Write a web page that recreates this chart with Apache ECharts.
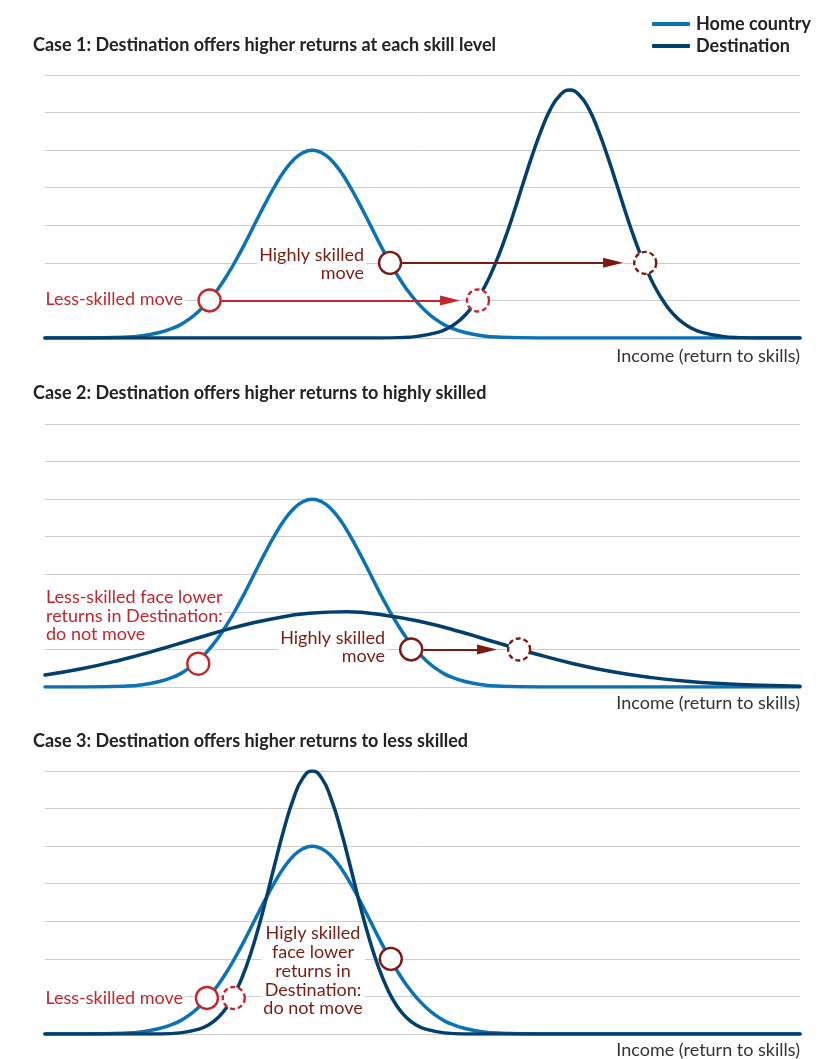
<!DOCTYPE html>
<html>
<head>
<meta charset="utf-8">
<script src="https://cdn.jsdelivr.net/npm/echarts@6/dist/echarts.min.js"></script>
<style>
  html, body { margin: 0; padding: 0; background: #fff; }
  #chart { width: 827px; height: 1059px; }
</style>
</head>
<body>
<div id="chart"></div>
<script>
// 三种情形：收入分布曲线（本国 vs 目的地）
// 曲线点 [收入, 密度]，读自原图
const homeCountry = [[0, 0], [5.4, 0], [10.4, 0.02], [12.9, 0.06], [15.4, 0.16], [16.65, 0.24], [17.9, 0.35], [19.15, 0.51], [20.4, 0.72], [21.65, 0.98], [22.9, 1.3], [24.15, 1.68], [25.4, 2.11], [26.65, 2.58], [27.9, 3.08], [29.15, 3.57], [30.4, 4.03], [31.65, 4.43], [32.9, 4.74], [34.15, 4.93], [35.4, 5], [36.65, 4.93], [37.9, 4.74], [39.15, 4.43], [40.4, 4.03], [41.65, 3.57], [42.9, 3.08], [44.15, 2.58], [45.4, 2.11], [46.65, 1.68], [47.9, 1.3], [49.15, 0.98], [50.4, 0.72], [51.65, 0.51], [52.9, 0.35], [54.15, 0.24], [55.4, 0.16], [57.9, 0.06], [60.4, 0.02], [65.4, 0], [75.4, 0], [100, 0]]

const destCase1 = [[0, 0], [39.5, 0], [44.5, 0], [47, 0.01], [49.5, 0.05], [52, 0.15], [53.25, 0.25], [54.5, 0.4], [55.75, 0.63], [57, 0.95], [58.25, 1.37], [59.5, 1.91], [60.75, 2.55], [62, 3.28], [63.25, 4.07], [64.5, 4.84], [65.75, 5.54], [67, 6.11], [68.25, 6.47], [69.5, 6.6], [70.75, 6.47], [72, 6.11], [73.25, 5.54], [74.5, 4.84], [75.75, 4.07], [77, 3.28], [78.25, 2.55], [79.5, 1.91], [80.75, 1.37], [82, 0.95], [83.25, 0.63], [84.5, 0.4], [85.75, 0.25], [87, 0.15], [89.5, 0.05], [92, 0.01], [94.5, 0], [100, 0]]

const destCase2 = [[0, 0.32], [5, 0.49], [10, 0.72], [15, 0.99], [20, 1.29], [25, 1.58], [30, 1.81], [35, 1.96], [40, 2], [45, 1.91], [50, 1.73], [55, 1.47], [60, 1.17], [65, 0.88], [70, 0.62], [75, 0.41], [80, 0.26], [85, 0.15], [90, 0.085], [95, 0.045], [100, 0.02]]

const destCase3 = [[0, 0], [10.4, 0], [15.4, 0], [17.9, 0.03], [20.4, 0.13], [21.65, 0.24], [22.9, 0.43], [24.15, 0.73], [25.4, 1.18], [26.65, 1.79], [27.9, 2.57], [29.15, 3.49], [30.4, 4.49], [31.65, 5.45], [32.9, 6.26], [34.15, 6.81], [35.4, 7], [36.65, 6.81], [37.9, 6.26], [39.15, 5.45], [40.4, 4.49], [41.65, 3.49], [42.9, 2.57], [44.15, 1.79], [45.4, 1.18], [46.65, 0.73], [47.9, 0.43], [49.15, 0.24], [50.4, 0.13], [52.9, 0.03], [55.4, 0], [65.4, 0], [100, 0]]

// 迁移标记：起点（实心圈）、终点（虚线圈）、箭头
const lessMove = [[21.8, 1], [20.3, 0.62], [21.45, 0.96]]
const lessTarget = [[57.35, 1], null, [25.0, 0.96]]
const highMove = [[45.7, 2], [48.5, 1], [45.8, 2]]
const highTarget = [[79.5, 2], [62.8, 1], null]
const lessArrow = [[[23.4, 1], [53.65, 1]], null, null]
const highArrow = [[[47.3, 2], [75.24, 2]], [[50.1, 1], [58.55, 1]], null]

const titles = [
	'Case 1: Destination offers higher returns at each skill level',
	'Case 2: Destination offers higher returns to highly skilled',
	'Case 3: Destination offers higher returns to less skilled'
]
const destCurves = [destCase1, destCase2, destCase3]

const HOME = '#0b72b6'
const DEST = '#033f6c'
const RED = '#c1272d'
const DARKRED = '#7a1b12'
const FONT = 'Lato, "Noto Sans", sans-serif'
const FS = 18

const gridTops = [75, 424, 771]
const GRID_H = 263

const chart = echarts.init(document.getElementById('chart'))

const grids = []
const xAxes = []
const yAxes = []
const series = []

gridTops.forEach((top, i) => {
	grids.push({ left: 45, width: 755, top: top, height: GRID_H })
	xAxes.push({ type: 'value', gridIndex: i, min: 0, max: 100, show: false })
	yAxes.push({
		type: 'value',
		gridIndex: i,
		min: 0,
		max: 7,
		interval: 1,
		axisLine: { show: false },
		axisTick: { show: false },
		axisLabel: { show: false },
		splitLine: { lineStyle: { color: '#cccccc', width: 1 } }
	})
	series.push({
		name: 'Home country',
		type: 'line',
		xAxisIndex: i,
		yAxisIndex: i,
		data: homeCountry,
		smooth: 0.5,
		symbol: 'none',
		color: HOME,
		lineStyle: { color: HOME, width: 3.5, cap: 'round' },
		z: 2
	})
	series.push({
		name: 'Destination',
		type: 'line',
		xAxisIndex: i,
		yAxisIndex: i,
		data: destCurves[i],
		smooth: 0.5,
		symbol: 'none',
		color: DEST,
		lineStyle: { color: DEST, width: 3.5, cap: 'round' },
		z: 3
	})

	// 箭头
	const arrows = []
	if (lessArrow[i]) {
		arrows.push([
			{ coord: lessArrow[i][0], lineStyle: { color: RED } },
			{ coord: lessArrow[i][1] }
		])
	}
	if (highArrow[i]) {
		arrows.push([
			{ coord: highArrow[i][0], lineStyle: { color: DARKRED } },
			{ coord: highArrow[i][1] }
		])
	}

	const circles = []
	const solid = (c, col) => ({
		value: c,
		itemStyle: { color: '#fff', opacity: 1, borderColor: col, borderWidth: 2.4 }
	})
	const dashed = (c, col) => ({
		value: c,
		itemStyle: { color: '#fff', opacity: 1, borderColor: col, borderWidth: 2.4, borderType: [5, 3] }
	})
	circles.push(solid(lessMove[i], RED))
	circles.push(solid(highMove[i], DARKRED))
	if (lessTarget[i]) circles.push(dashed(lessTarget[i], RED))
	if (highTarget[i]) circles.push(dashed(highTarget[i], DARKRED))

	series.push({
		type: 'scatter',
		xAxisIndex: i,
		yAxisIndex: i,
		symbol: 'circle',
		symbolSize: 22,
		data: circles,
		itemStyle: { opacity: 1 },
		z: 5,
		silent: true,
		markLine: {
			silent: true,
			symbol: ['none', 'triangle'],
			symbolSize: [10, 20],
			label: { show: false },
			lineStyle: { type: 'solid', width: 2.2, opacity: 1 },
			data: arrows,
			z: 4
		}
	})
})

const txt = (text, x, y, opt) => ({
	type: 'text',
	x: x,
	y: y,
	z: 1,
	silent: true,
	style: Object.assign({
		text: text,
		font: FS + 'px ' + FONT,
		fill: '#333',
		textAlign: 'left',
		textVerticalAlign: 'middle'
	}, opt || {})
})
const note = (text, x, y, opt) => txt(text, x, y, Object.assign({ backgroundColor: '#fff', padding: [0, 2], lineHeight: 18.5 }, opt))

const graphics = [
	txt(titles[0], 33, 45, { font: 'bold ' + FS + 'px ' + FONT, fill: '#222' }),
	txt(titles[1], 33, 393, { font: 'bold ' + FS + 'px ' + FONT, fill: '#222' }),
	txt(titles[2], 33, 741, { font: 'bold ' + FS + 'px ' + FONT, fill: '#222' }),
	txt('Income (return to skills)', 800, 356, { textAlign: 'right' }),
	txt('Income (return to skills)', 800, 703, { textAlign: 'right' }),
	txt('Income (return to skills)', 800, 1050, { textAlign: 'right' }),
	// case 1
	note('Less-skilled move', 185, 299, { textAlign: 'right', fill: RED }),
	note('Highly skilled\nmove', 366, 264, { textAlign: 'right', fill: DARKRED }),
	// case 2
	note('Less-skilled face lower\nreturns in Destination:\ndo not move', 44, 616, { fill: RED }),
	note('Highly skilled\nmove', 387, 647, { textAlign: 'right', fill: DARKRED }),
	// case 3
	note('Less-skilled move', 185, 998, { textAlign: 'right', fill: RED }),
	note('Higly skilled\nface lower\nreturns in\nDestination:\ndo not move', 313, 971, { textAlign: 'center', fill: DARKRED, lineHeight: 18.8 })
]

chart.setOption({
	animation: false,
	backgroundColor: '#fff',
	legend: {
		orient: 'vertical',
		left: 647,
		top: 10,
		itemWidth: 38,
		itemHeight: 4,
		itemGap: 4,
		icon: 'roundRect',
		data: ['Home country', 'Destination'],
		textStyle: { fontFamily: FONT, fontSize: FS, fontWeight: 'bold', color: '#222', padding: [0, 0, 0, 1] },
		selectedMode: false
	},
	grid: grids,
	xAxis: xAxes,
	yAxis: yAxes,
	series: series,
	graphic: graphics
})
</script>
</body>
</html>
